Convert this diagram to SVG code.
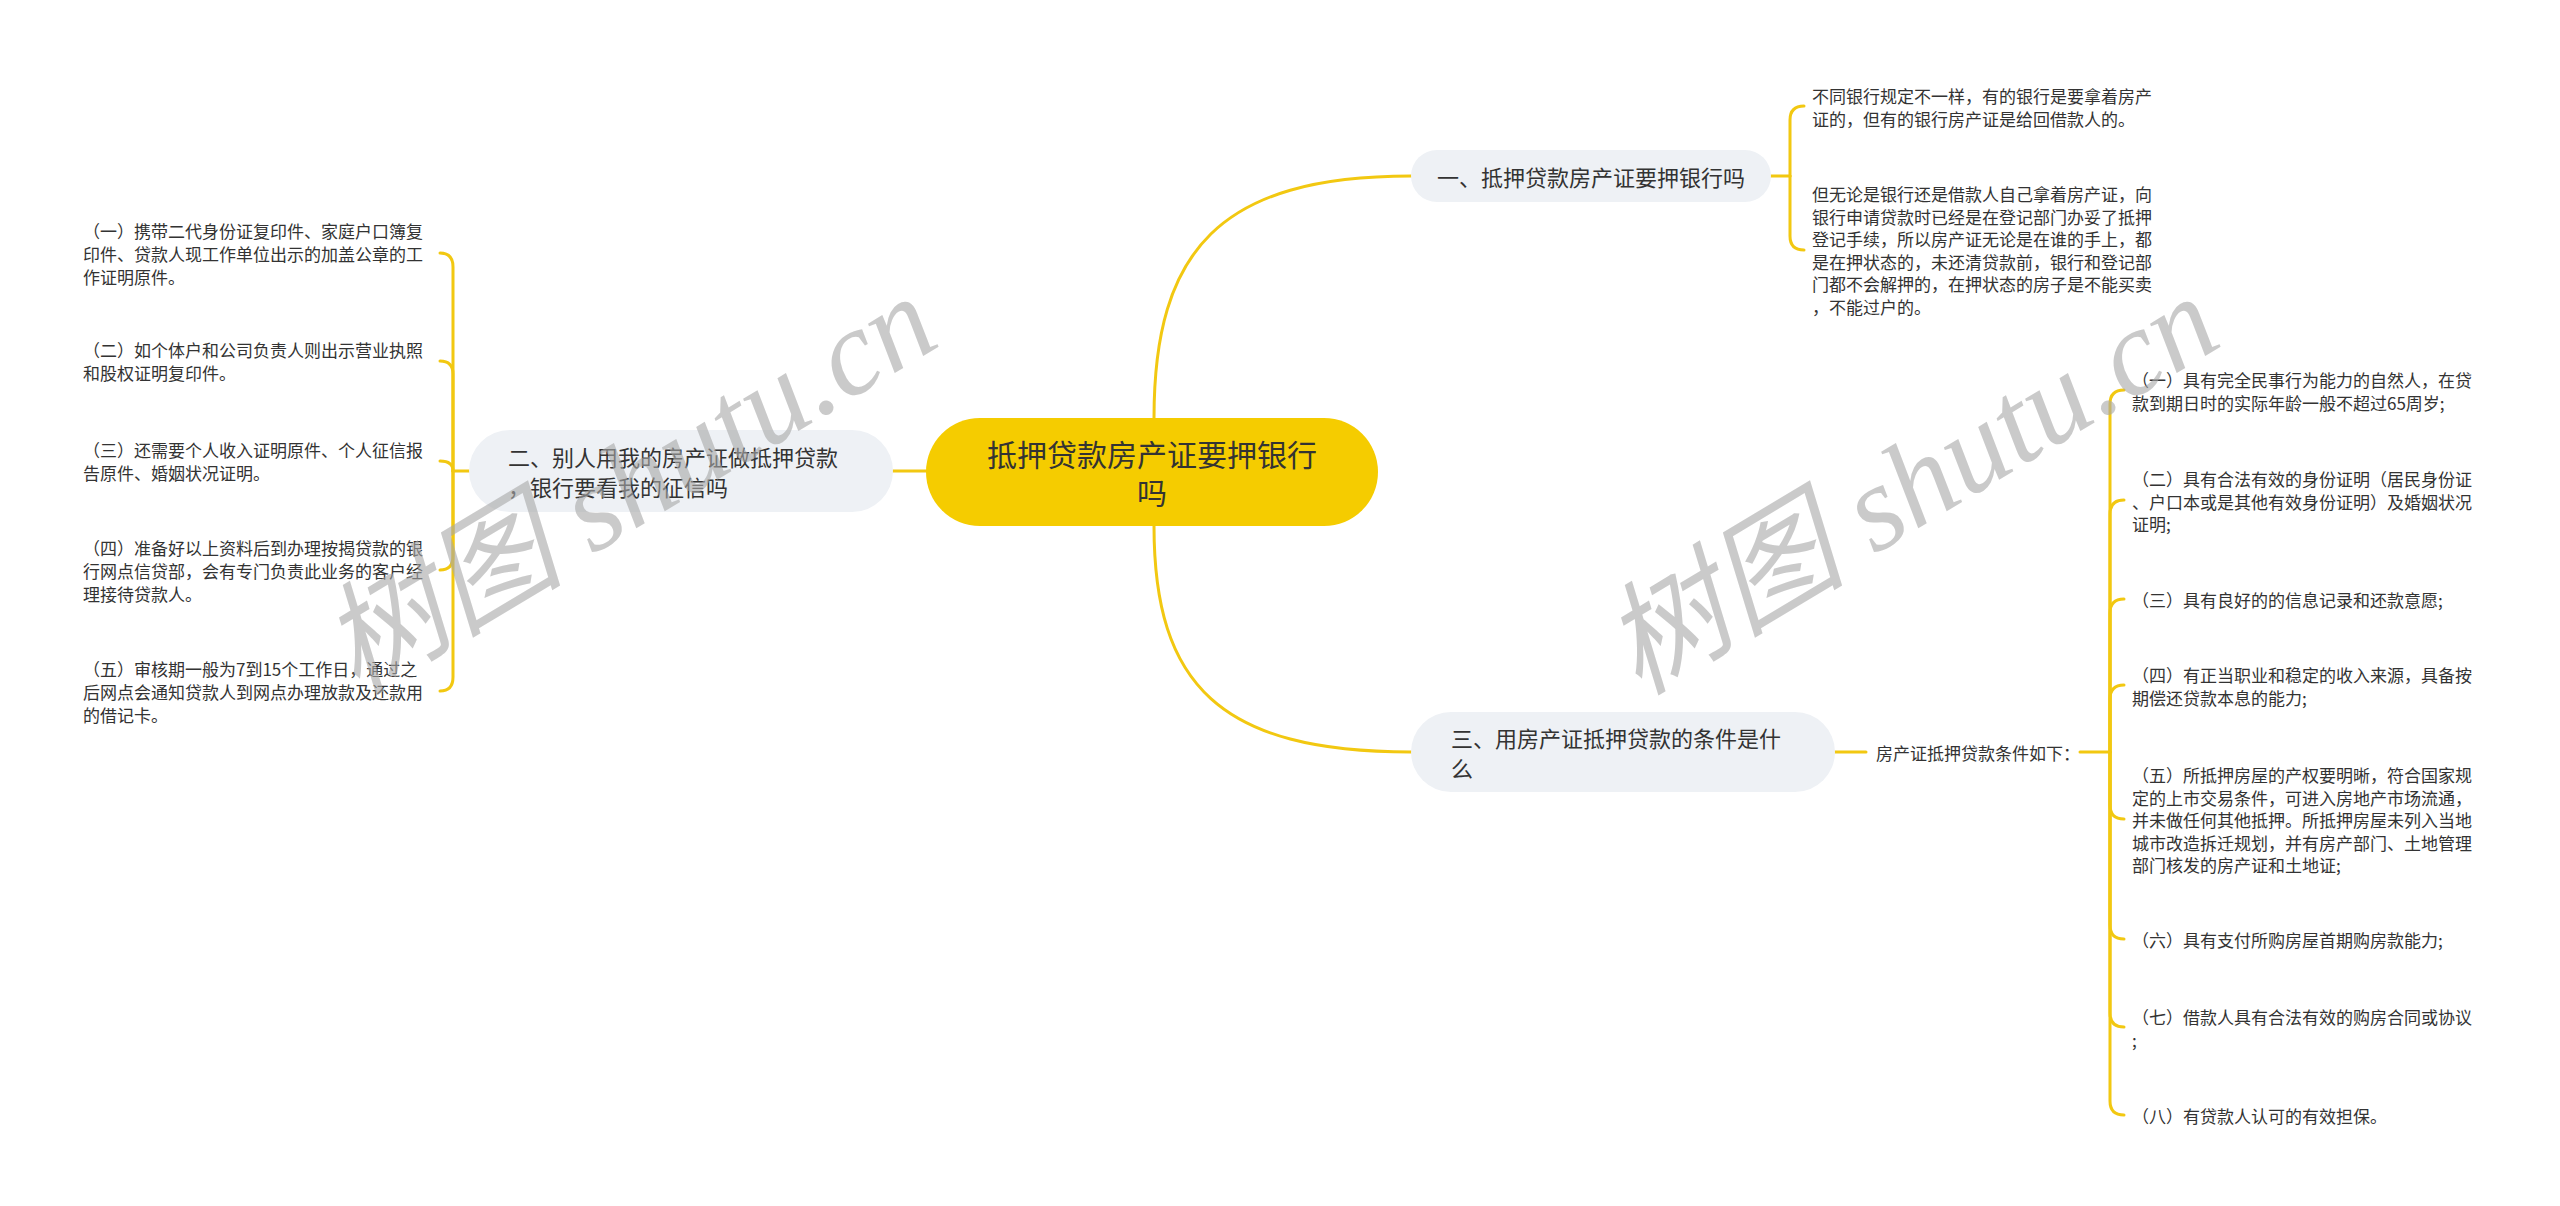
<svg xmlns="http://www.w3.org/2000/svg" width="2560" height="1206" viewBox="0 0 2560 1206">
<style>
.t{font-family:"Noto Sans CJK SC","Noto Sans",sans-serif;fill:#333333;dominant-baseline:central}
.leaf{font-size:17px}
.mid{font-size:22px}
.root{font-size:30px;text-anchor:middle}
.sub{fill:#EEF1F5}
.ln{fill:none;stroke:#F2C811;stroke-width:3;stroke-linecap:round}
.wm{font-family:"Liberation Serif","Noto Sans CJK SC",serif;font-style:italic;font-size:122px;fill:#a8a8a8;opacity:0.6}
</style>
<rect width="2560" height="1206" fill="#ffffff"/>
<g id="connectors">
<path class="ln" d="M1154 418 C1154 250 1220 176 1411 176"/>
<path class="ln" d="M1154 526 C1154 685 1220 752 1411 752"/>
<path class="ln" d="M926 471 L893 471"/>
<path class="ln" d="M469 471 L453 471"/>
<path class="ln" d="M453 471 L453 267 Q453 253 440 253"/>
<path class="ln" d="M453 471 L453 374 Q453 361 440 361"/>
<path class="ln" d="M453 471 Q453 461 440 461"/>
<path class="ln" d="M453 471 L453 556 Q453 570 440 570"/>
<path class="ln" d="M453 471 L453 677 Q453 691 440 691"/>
<path class="ln" d="M1771 176 L1790 176"/>
<path class="ln" d="M1790 176 L1790 120 Q1790 106 1804 106"/>
<path class="ln" d="M1790 176 L1790 236 Q1790 250 1804 250"/>
<path class="ln" d="M1835 752 L1866 752"/>
<path class="ln" d="M2080 752 L2110 752"/>
<path class="ln" d="M2110 752 L2110 404 Q2110 390 2124 390"/>
<path class="ln" d="M2110 752 L2110 514 Q2110 500 2124 500"/>
<path class="ln" d="M2110 752 L2110 613 Q2110 599 2124 599"/>
<path class="ln" d="M2110 752 L2110 699 Q2110 685 2124 685"/>
<path class="ln" d="M2110 752 L2110 805 Q2110 819 2124 819"/>
<path class="ln" d="M2110 752 L2110 925 Q2110 939 2124 939"/>
<path class="ln" d="M2110 752 L2110 1013 Q2110 1027 2124 1027"/>
<path class="ln" d="M2110 752 L2110 1101 Q2110 1115 2124 1115"/>
</g>
<g id="root">
<rect x="926" y="418" width="452" height="108" rx="54" fill="#F5CC00"/>
<text class="t root" x="1152" y="453">抵押贷款房产证要押银行</text>
<text class="t root" x="1152" y="491">吗</text>
</g>
<g id="n1">
<rect class="sub" x="1411" y="150" width="360" height="52" rx="26"/>
<text class="t mid" x="1437" y="176">一、抵押贷款房产证要押银行吗</text>
</g>
<g id="n2">
<rect class="sub" x="469" y="430" width="424" height="82" rx="41"/>
<text class="t mid" x="508" y="456">二、别人用我的房产证做抵押贷款</text>
<text class="t mid" x="508" y="486">，银行要看我的征信吗</text>
</g>
<g id="n3">
<rect class="sub" x="1411" y="712" width="424" height="80" rx="40"/>
<text class="t mid" x="1451" y="737">三、用房产证抵押贷款的条件是什</text>
<text class="t mid" x="1451" y="767">么</text>
</g>
<g id="n1a"><text class="t leaf" x="1812"><tspan x="1812" y="95">不同银行规定不一样，有的银行是要拿着房产</tspan><tspan x="1812" y="118">证的，但有的银行房产证是给回借款人的。</tspan></text></g>
<g id="n1b"><text class="t leaf"><tspan x="1812" y="193">但无论是银行还是借款人自己拿着房产证，向</tspan><tspan x="1812" y="215.5">银行申请贷款时已经是在登记部门办妥了抵押</tspan><tspan x="1812" y="238">登记手续，所以房产证无论是在谁的手上，都</tspan><tspan x="1812" y="260.5">是在押状态的，未还清贷款前，银行和登记部</tspan><tspan x="1812" y="283">门都不会解押的，在押状态的房子是不能买卖</tspan><tspan x="1812" y="305.5">，不能过户的。</tspan></text></g>
<g id="n2a"><text class="t leaf"><tspan x="83" y="230">（一）携带二代身份证复印件、家庭户口簿复</tspan><tspan x="83" y="253">印件、贷款人现工作单位出示的加盖公章的工</tspan><tspan x="83" y="276">作证明原件。</tspan></text></g>
<g id="n2b"><text class="t leaf"><tspan x="83" y="349">（二）如个体户和公司负责人则出示营业执照</tspan><tspan x="83" y="372">和股权证明复印件。</tspan></text></g>
<g id="n2c"><text class="t leaf"><tspan x="83" y="449">（三）还需要个人收入证明原件、个人征信报</tspan><tspan x="83" y="472">告原件、婚姻状况证明。</tspan></text></g>
<g id="n2d"><text class="t leaf"><tspan x="83" y="547">（四）准备好以上资料后到办理按揭贷款的银</tspan><tspan x="83" y="570">行网点信贷部，会有专门负责此业务的客户经</tspan><tspan x="83" y="593">理接待贷款人。</tspan></text></g>
<g id="n2e"><text class="t leaf"><tspan x="83" y="668">（五）审核期一般为7到15个工作日，通过之</tspan><tspan x="83" y="691">后网点会通知贷款人到网点办理放款及还款用</tspan><tspan x="83" y="714">的借记卡。</tspan></text></g>
<g id="n3m"><text class="t leaf" x="1876" y="752">房产证抵押贷款条件如下：</text></g>
<g id="n3a"><text class="t leaf"><tspan x="2132" y="379">（一）具有完全民事行为能力的自然人，在贷</tspan><tspan x="2132" y="401.5">款到期日时的实际年龄一般不超过65周岁;</tspan></text></g>
<g id="n3b"><text class="t leaf"><tspan x="2132" y="478">（二）具有合法有效的身份证明（居民身份证</tspan><tspan x="2132" y="500.5">、户口本或是其他有效身份证明）及婚姻状况</tspan><tspan x="2132" y="523">证明;</tspan></text></g>
<g id="n3c"><text class="t leaf" x="2132" y="599">（三）具有良好的的信息记录和还款意愿;</text></g>
<g id="n3d"><text class="t leaf"><tspan x="2132" y="674">（四）有正当职业和稳定的收入来源，具备按</tspan><tspan x="2132" y="696.5">期偿还贷款本息的能力;</tspan></text></g>
<g id="n3e"><text class="t leaf"><tspan x="2132" y="774">（五）所抵押房屋的产权要明晰，符合国家规</tspan><tspan x="2132" y="796.5">定的上市交易条件，可进入房地产市场流通，</tspan><tspan x="2132" y="819">并未做任何其他抵押。所抵押房屋未列入当地</tspan><tspan x="2132" y="841.5">城市改造拆迁规划，并有房产部门、土地管理</tspan><tspan x="2132" y="864">部门核发的房产证和土地证;</tspan></text></g>
<g id="n3f"><text class="t leaf" x="2132" y="939">（六）具有支付所购房屋首期购房款能力;</text></g>
<g id="n3g"><text class="t leaf"><tspan x="2132" y="1016">（七）借款人具有合法有效的购房合同或协议</tspan><tspan x="2132" y="1038.5">;</tspan></text></g>
<g id="n3h"><text class="t leaf" x="2132" y="1115">（八）有贷款人认可的有效担保。</text></g>
<g id="watermarks">
<text class="wm" x="650" y="520" text-anchor="middle" transform="rotate(-31 650 520)">树图 shutu.cn</text>
<text class="wm" x="1932" y="520" text-anchor="middle" transform="rotate(-31 1932 520)">树图 shutu.cn</text>
</g>
</svg>
